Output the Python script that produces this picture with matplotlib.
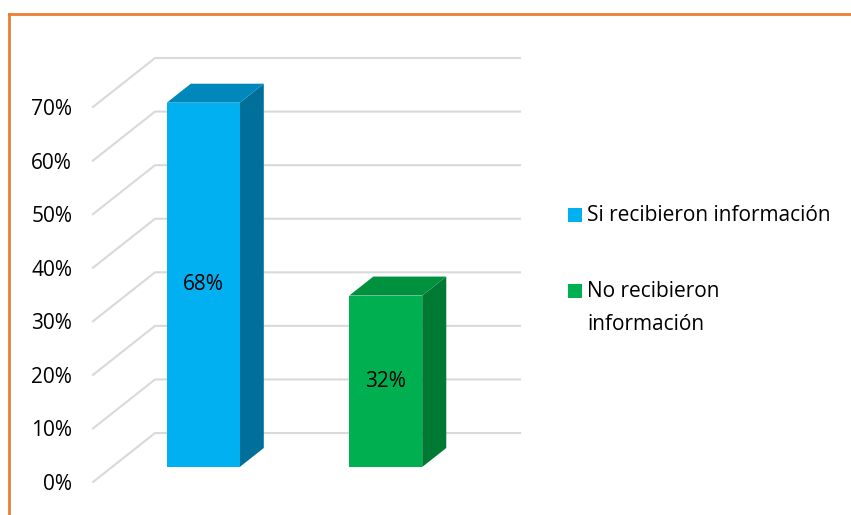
import numpy as np
from matplotlib import pyplot as plt
from matplotlib.patches import Polygon, Rectangle

# data
categories = ['Si recibieron información', 'No recibieron\ninformación']
values = [68, 32]
value_labels = ['68%', '32%']
yticks = [0, 10, 20, 30, 40, 50, 60, 70]
ytick_labels = ['0%', '10%', '20%', '30%', '40%', '50%', '60%', '70%']

front_cols = ['#00B0F0', '#00B050']
top_cols = ['#0088BC', '#00913F']
side_cols = ['#00709A', '#007A33']

plt.rcParams['font.family'] = ['Open Sans', 'DejaVu Sans']

W, H = 851, 515
fig = plt.figure(figsize=(W/100, H/100), dpi=100)

# oblique depth offset (data units) and bar depth fraction
DX, DY = 0.34, 9.14
d0, d1 = 0.306, 0.694
bw = 0.4

ax = fig.add_axes([93/W, 33/H, 427/W, 424/H])
ax.set_xlim(-0.5, 1.5 + DX)
ax.set_ylim(0, 70 + DY)
for s in ax.spines.values():
	s.set_visible(False)
ax.set_xticks([])
ax.set_yticks(yticks)
ax.set_yticklabels(ytick_labels, fontsize=15)
ax.tick_params(axis='y', length=0, pad=15)

# gridlines: side wall diagonal + back wall
for v in yticks:
	ax.plot([-0.5, -0.5 + DX, 1.5 + DX], [v, v + DY, v + DY],
		color='#D9D9D9', lw=1.5, zorder=1, clip_on=False)

# 3d-ish columns
for i, v in enumerate(values):
	x0 = i - bw/2
	x1 = i + bw/2
	front = [(x0 + d0*DX, d0*DY), (x1 + d0*DX, d0*DY),
		(x1 + d0*DX, v + d0*DY), (x0 + d0*DX, v + d0*DY)]
	top = [(x0 + d0*DX, v + d0*DY), (x1 + d0*DX, v + d0*DY),
		(x1 + d1*DX, v + d1*DY), (x0 + d1*DX, v + d1*DY)]
	side = [(x1 + d0*DX, d0*DY), (x1 + d1*DX, d1*DY),
		(x1 + d1*DX, v + d1*DY), (x1 + d0*DX, v + d0*DY)]
	ax.add_patch(Polygon(side, closed=True, fc=side_cols[i], ec='none', zorder=3))
	ax.add_patch(Polygon(top, closed=True, fc=top_cols[i], ec='none', zorder=3))
	ax.add_patch(Polygon(front, closed=True, fc=front_cols[i], ec='none', zorder=4))
	ax.text(i + d0*DX, v/2 + d0*DY, value_labels[i], ha='center', va='center',
		fontsize=15, color='black', zorder=5)

# legend (drawn by hand so the square sits on the first line)
leg_y = [215, 291]
for i, lab in enumerate(categories):
	yc = 1 - leg_y[i]/H
	fig.add_artist(Rectangle((568/W, yc - 7/H), 14/W, 14/H,
		transform=fig.transFigure, fc=front_cols[i], ec='none'))
	fig.text(587/W, yc + 10/H, lab, ha='left', va='top', fontsize=15,
		linespacing=1.75)

# orange frame (top and left edges)
fig.add_artist(plt.Line2D([9/W, 1], [1 - 14/H, 1 - 14/H], transform=fig.transFigure,
	color='#ED7D31', lw=2))
fig.add_artist(plt.Line2D([9/W, 9/W], [0, 1 - 14/H], transform=fig.transFigure,
	color='#ED7D31', lw=2))

fig.savefig('out.png', dpi=100)
